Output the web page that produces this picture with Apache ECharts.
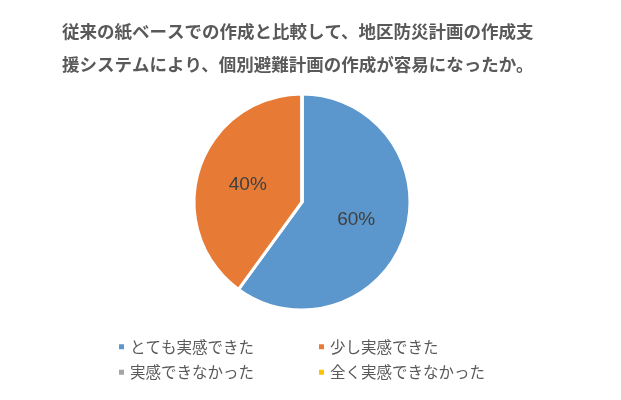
<!DOCTYPE html><html><head><meta charset="utf-8"><script src="https://cdn.jsdelivr.net/npm/echarts@6/dist/echarts.min.js"></script></head><body style="margin:0"><div id="c" style="width:621px;height:400px"></div><script>
const categories=['とても実感できた','少し実感できた','実感できなかった','全く実感できなかった'];
const values=[60,40,0,0];
const colors=['#5B96CC','#E77B35','#A5A5A5','#FFC000'];
const ch=echarts.init(document.getElementById('c'));
const leg=(l,items)=>({left:l,top:334,orient:'vertical',itemGap:10,itemWidth:7,itemHeight:7,icon:'rect',data:items,textStyle:{fontSize:15.5,color:'#595959',fontFamily:'Noto Sans CJK JP'}});
ch.setOption({
 title:{text:'従来の紙ベースでの作成と比較して、地区防災計画の作成支\n援システムにより、個別避難計画の作成が容易になったか。',left:57,top:10,textStyle:{fontSize:17.5,fontWeight:'bold',color:'#595959',lineHeight:33,fontFamily:'Noto Sans CJK JP'}},
 legend:[leg(112,[categories[0],categories[2]]),leg(312,[categories[1],categories[3]])],
 series:[{type:'pie',center:[302,202],radius:[0,108],startAngle:90,clockwise:true,
  itemStyle:{borderColor:'#fff',borderWidth:3},
  label:{position:'inside',fontSize:19,color:'#404040',formatter:p=>p.value>0?p.value+'%':''},
  labelLine:{show:false},
  data:categories.map((n,i)=>({name:n,value:values[i],itemStyle:{color:colors[i]}}))}]
});
</script></body></html>
